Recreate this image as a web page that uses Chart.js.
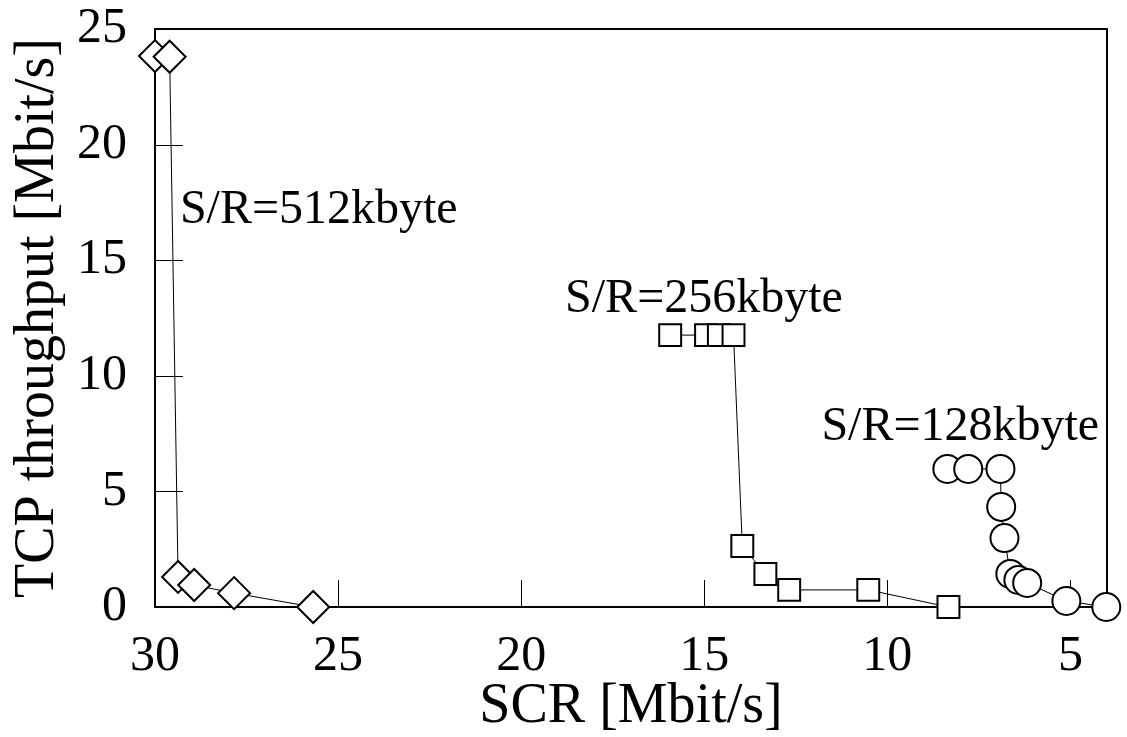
<!DOCTYPE html>
<html>
<head>
<meta charset="utf-8">
<script src="https://cdn.jsdelivr.net/npm/chart.js@4.4.1/dist/chart.umd.min.js"></script>
<style>
  html, body { margin: 0; padding: 0; background: #fff; }
  #wrap { width: 1127px; height: 737px; overflow: hidden; }
</style>
</head>
<body>
<div id="wrap"><canvas id="chart" width="1127" height="737"></canvas></div>
<script>
// SCR [Mbit/s] (x) and TCP throughput [Mbit/s] (y) per socket buffer size
const scr512 = [30.0, 29.6, 29.37, 28.93, 27.84, 25.68];
const tcp512 = [23.83, 23.8, 1.30, 0.95, 0.60, 0.0];

const scr256 = [15.93, 14.95, 14.6, 14.2, 13.96, 13.33, 12.68, 10.52, 8.33];
const tcp256 = [11.76, 11.76, 11.76, 11.76, 2.64, 1.43, 0.74, 0.74, 0.0];

const scr128 = [8.36, 7.79, 6.91, 6.89, 6.8, 6.64, 6.42, 6.18, 5.11, 4.02];
const tcp128 = [5.97, 5.97, 5.97, 4.33, 2.98, 1.43, 1.17, 1.04, 0.26, 0.0];

const xTicks = [5, 10, 15, 20, 25, 30];
const yTicks = [0, 5, 10, 15, 20, 25];

// curve labels: text, x, y (data units, left/baseline)
const labelTexts = ['S/R=512kbyte', 'S/R=256kbyte', 'S/R=128kbyte'];
const labelX = [29.32, 18.8, 11.8];
const labelY = [16.6, 12.76, 7.22];

const serif = "'Liberation Serif', 'DejaVu Serif', serif";

function toPoints(xs, ys) {
    return xs.map((x, i) => ({ x: x, y: ys[i] }));
}

function series(xs, ys, style, radius) {
    return {
        data: toPoints(xs, ys),
        showLine: true,
        clip: false,
        borderColor: '#000',
        borderWidth: 1,
        pointStyle: style,
        pointRadius: radius,
        pointBorderWidth: 2,
        pointBorderColor: '#000',
        pointBackgroundColor: '#fff',
        tension: 0
    };
}

// frame + inward tick marks + curve labels
const framePlugin = {
    id: 'frame',
    beforeDatasetsDraw(chart) {
        const { ctx, chartArea: a, scales } = chart;
        ctx.save();
        ctx.strokeStyle = '#000';
        ctx.lineWidth = 1;
        ctx.beginPath();
        xTicks.forEach(v => {
            const px = Math.round(scales.x.getPixelForValue(v)) + 0.5;
            ctx.moveTo(px, a.bottom);
            ctx.lineTo(px, a.bottom - 27);
        });
        yTicks.forEach(v => {
            const py = Math.round(scales.y.getPixelForValue(v)) + 0.5;
            ctx.moveTo(a.left, py);
            ctx.lineTo(a.left + 28, py);
        });
        ctx.stroke();
        ctx.lineWidth = 2;
        ctx.strokeRect(a.left, a.top, a.right - a.left, a.bottom - a.top);
        ctx.restore();
    },
    afterDatasetsDraw(chart) {
        const { ctx, scales } = chart;
        ctx.save();
        ctx.fillStyle = '#000';
        ctx.font = '48px ' + serif;
        ctx.textAlign = 'left';
        ctx.textBaseline = 'alphabetic';
        labelTexts.forEach((t, i) => {
            ctx.fillText(t, scales.x.getPixelForValue(labelX[i]), scales.y.getPixelForValue(labelY[i]));
        });
        ctx.restore();
    }
};

new Chart(document.getElementById('chart'), {
    type: 'scatter',
    data: {
        datasets: [
            series(scr512, tcp512, 'rectRot', 16),
            series(scr256, tcp256, 'rect', 15.5),
            series(scr128, tcp128, 'circle', 14)
        ]
    },
    options: {
        responsive: false,
        devicePixelRatio: 1,
        animation: false,
        layout: { padding: { top: 29, right: 20, left: 0, bottom: 0 } },
        plugins: {
            legend: { display: false },
            tooltip: { enabled: false }
        },
        scales: {
            x: {
                type: 'linear',
                reverse: true,
                min: 4,
                max: 30,
                afterBuildTicks: axis => { axis.ticks = xTicks.map(v => ({ value: v })); },
                afterFit: axis => {
                    axis.height = 130;
                    axis.paddingLeft = 0;
                    axis.paddingRight = 0;
                },
                grid: { display: false, drawTicks: false },
                border: { display: false },
                ticks: {
                    color: '#000',
                    font: { family: serif, size: 50 },
                    padding: 20,
                    maxRotation: 0
                },
                title: {
                    display: true,
                    text: 'SCR [Mbit/s]',
                    color: '#000',
                    font: { family: serif, size: 56, lineHeight: 1 },
                    padding: { top: 0, bottom: 2 }
                }
            },
            y: {
                type: 'linear',
                min: 0,
                max: 25,
                afterBuildTicks: axis => { axis.ticks = yTicks.map(v => ({ value: v })); },
                afterFit: axis => {
                    axis.width = 155;
                    axis.paddingTop = 0;
                    axis.paddingBottom = 0;
                },
                grid: { display: false, drawTicks: false },
                border: { display: false },
                ticks: {
                    color: '#000',
                    font: { family: serif, size: 50 },
                    padding: 28
                },
                title: {
                    display: true,
                    text: 'TCP throughput [Mbit/s]',
                    color: '#000',
                    font: { family: serif, size: 56, lineHeight: 1 },
                    padding: { top: 10, bottom: 0 }
                }
            }
        }
    },
    plugins: [framePlugin]
});
</script>
</body>
</html>
